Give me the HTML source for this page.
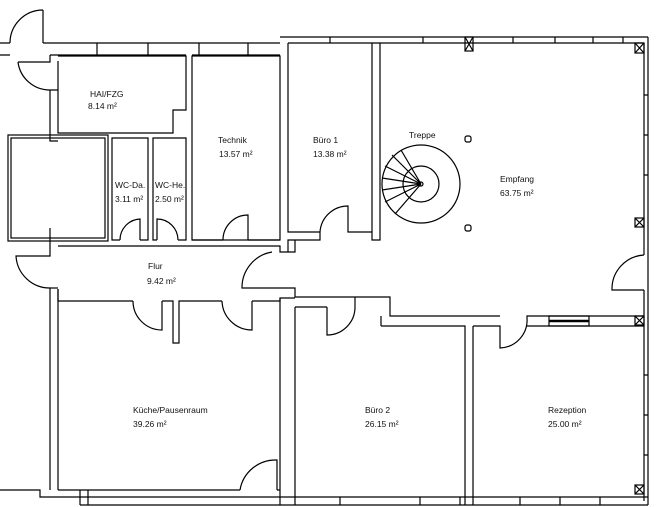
<!DOCTYPE html>
<html><head><meta charset="utf-8"><style>
html,body{margin:0;padding:0;background:#fff;}
svg{display:block;}
text{font-family:"Liberation Sans",sans-serif;font-size:8.5px;fill:#111;}
</style></head><body>
<svg width="657" height="507" viewBox="0 0 657 507" xmlns="http://www.w3.org/2000/svg">
<g fill="none" stroke="#000" stroke-width="1.2">
<path d="M0,43 H10 M0,55 H10 M43,43 H280 M50,55 H58 M58,55 H186 M192,55 H280"/>
<path d="M97,43 V55 M148,43 V55 M199,43 V55 M248,43 V55"/>
<path d="M43,10 V43"/><path d="M43,10 A33,33 0 0 0 10,43"/>
<path d="M50,55 V62 H18"/><path d="M18,62 A32,32 0 0 0 50,90 V131 M50,90 H58"/>
<path d="M280,37 H648 M288,43 H644 M330,37 V43 M423,37 V43 M513,37 V43 M555,37 V43 M593,37 V43 M623,37 V43"/>
<rect x="465" y="37" width="8" height="14"/><path d="M465,37 L473,51 M473,37 L465,51"/>
<rect x="635" y="43" width="9" height="10"/><path d="M635,43 L644,53 M644,43 L635,53"/>
<path d="M648,37 V505 M644,43 V255 M644,290 V501 M644,95 H648 M644,135 H648 M644,175 H648 M644,375 H648 M644,415 H648 M644,455 H648"/>
<rect x="635" y="218" width="9" height="9"/><path d="M635,218 L644,227 M644,218 L635,227"/>
<rect x="635" y="316" width="9" height="9"/><path d="M635,316 L644,325 M644,316 L635,325"/>
<rect x="635" y="485" width="9" height="9"/><path d="M635,485 L644,494 M644,485 L635,494"/>
<path d="M58,61 V133 H173 V110 H186 V56 H58"/>
<rect x="192" y="56" width="88" height="184"/>
<rect x="8" y="135" width="100" height="106"/><rect x="11" y="138" width="94" height="100"/>
<path d="M50,131 V141 H58 M50,228 V246"/>
<path d="M120,240 H112 V138 H148 V240 H140"/>
<path d="M157,240 H153 V138 H186 V240 H178"/>
<path d="M223,240 H192 M248,240 H280"/>
<path d="M140,240 V219 A21,21 0 0 0 120,240"/>
<path d="M157,240 V219 A21,21 0 0 1 178,240"/>
<path d="M248,240 V215 A25,25 0 0 0 223,240"/>
<path d="M288,43 V232 H320 M350,232 H372 V43 M380,43 V240 H372 V232"/>
<path d="M320,232 V240 H288 V252"/>
<path d="M320,232 A28,28 0 0 1 348,206 V232 H350"/>
<path d="M58,246 H280 V252 H295 V240"/>
<path d="M50,246 V256 H16 A34,34 0 0 0 50,288 V490"/>
<path d="M58,289 V490"/>
<path d="M58,289 V301 H133 M162,301 H173 V343 H179 V301 H222 M252,301 H280 V298 H295"/>
<path d="M133,301 A29,29 0 0 0 162,330 V301"/>
<path d="M222,301 A30,30 0 0 0 252,330 V301"/>
<path d="M50,288 H58"/>
<path d="M272,252 A36,36 0 0 0 242,288 H295 V297 H355"/>
<path d="M280,298 V505 M295,307 V505 M58,490 H88 V505 M88,490 H240 M277,490 H280"/>
<path d="M240,490 A36,36 0 0 1 277,460 V490"/>
<path d="M0,490 H40 V497 H80"/>
<path d="M295,307 H327 M355,297 V307 M355,297 H390 V316 H500 M390,326 H465 V505 M381,316 V326 M381,326 H390"/>
<path d="M327,307 V335 A28,28 0 0 0 355,307"/>
<path d="M473,326 V505 M473,326 H500 V348 A28,28 0 0 0 527,318 V316 H644 M527,326 H644"/>
<rect x="549" y="316" width="40" height="10"/>
<path d="M549,321 H589" stroke-width="2.5"/>
<path d="M80,497 H648 M80,505 H648 M80,490 V505 M340,497 V505 M420,497 V505 M460,497 V505 M520,497 V505 M560,497 V505 M600,497 V505"/>
<path d="M644,255 A34,34 0 0 0 612,290 H644"/>
<circle cx="421" cy="184" r="39"/>
<circle cx="421" cy="184" r="18"/>
<circle cx="421" cy="184" r="2"/>
<path d="M421,184 L401,150 M421,184 L392,155 M421,184 L385,166 M421,184 L382,178 M421,184 L382,190 M421,184 L385,202 M421,184 L395,214"/>
<rect x="465" y="136" width="6" height="6" rx="2"/>
<rect x="465" y="225" width="6" height="6" rx="2"/>
</g>
<text x="90" y="97">HAI/FZG</text><text x="88" y="109">8.14 m²</text>
<text x="218" y="143">Technik</text><text x="219" y="157">13.57 m²</text>
<text x="313" y="143">Büro 1</text><text x="313" y="157">13.38 m²</text>
<text x="409" y="138">Treppe</text>
<text x="500" y="182">Empfang</text><text x="500" y="196">63.75 m²</text>
<text x="115" y="188">WC-Da.</text><text x="115" y="202">3.11 m²</text>
<text x="155" y="188">WC-He.</text><text x="155" y="202">2.50 m²</text>
<text x="148" y="269">Flur</text><text x="147" y="284">9.42 m²</text>
<text x="133" y="413">Küche/Pausenraum</text><text x="133" y="427">39.26 m²</text>
<text x="365" y="413">Büro 2</text><text x="365" y="427">26.15 m²</text>
<text x="548" y="413">Rezeption</text><text x="548" y="427">25.00 m²</text>
</svg>
</body></html>
